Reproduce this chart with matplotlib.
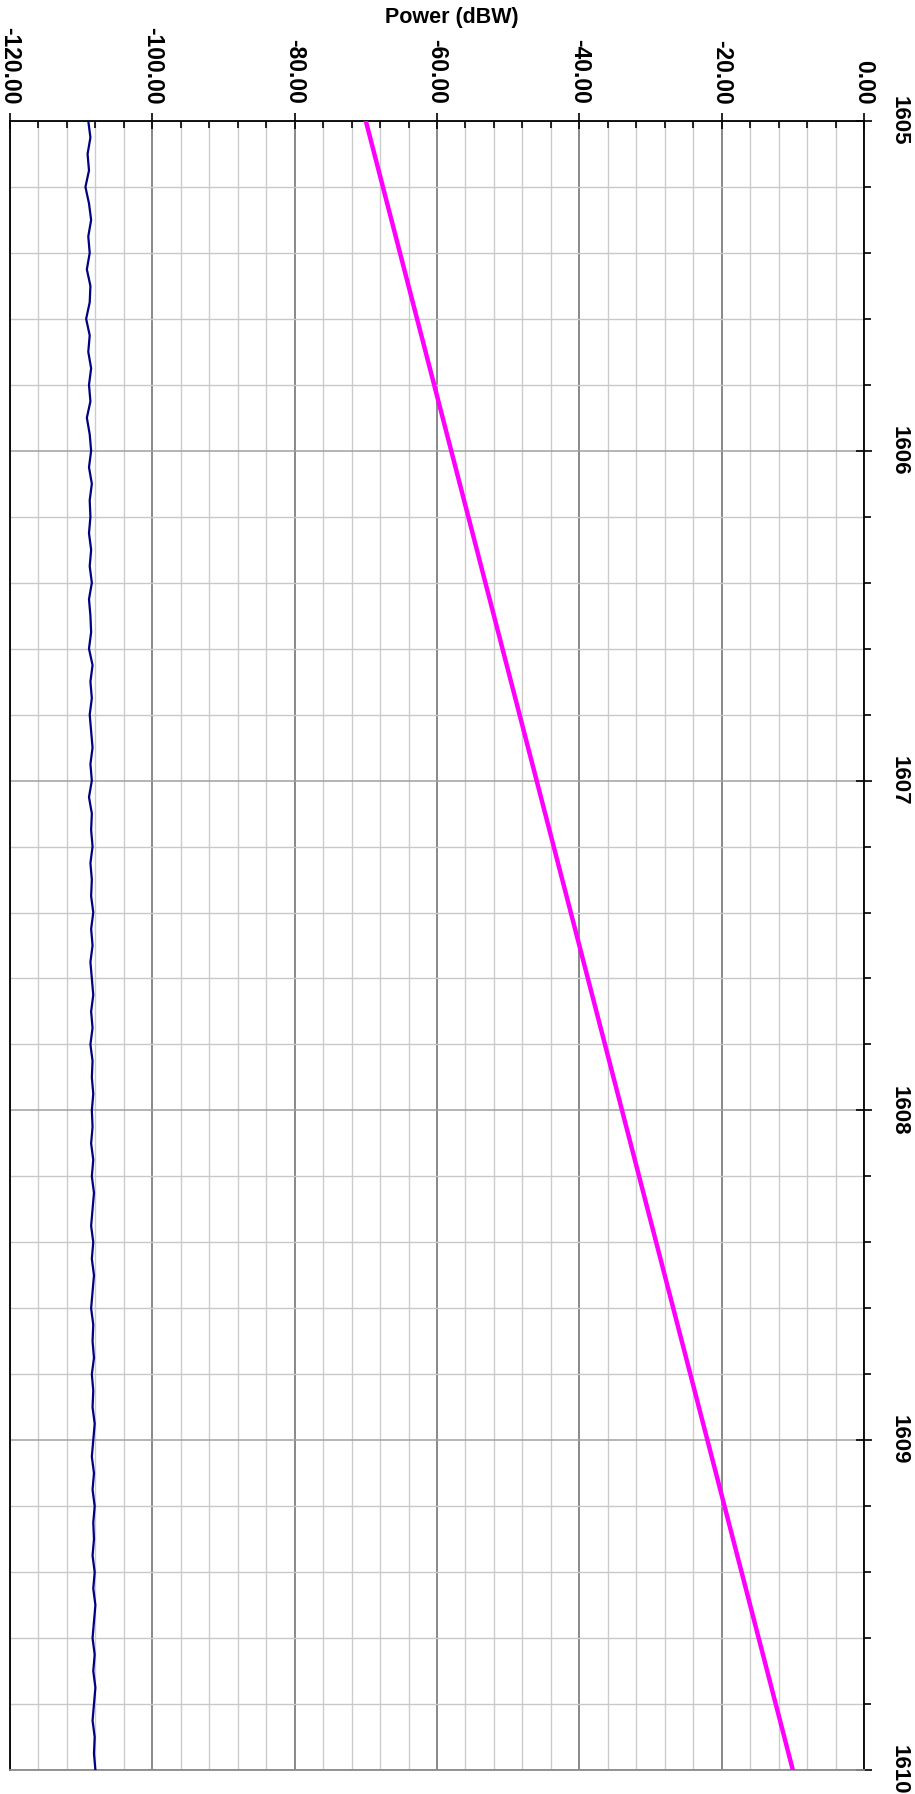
import numpy as np
import matplotlib
matplotlib.use("Agg")
import matplotlib.pyplot as plt
from matplotlib.ticker import MultipleLocator, FormatStrFormatter

plt.rcParams['font.family'] = ['Liberation Sans', 'DejaVu Sans']

# frequency (MHz) of the signal trace, every 0.25 MHz
sig_freq = [1605.00, 1605.25, 1605.50, 1605.75, 1606.00, 1606.25, 1606.50,
            1606.75, 1607.00, 1607.25, 1607.50, 1607.75, 1608.00, 1608.25,
            1608.50, 1608.75, 1609.00, 1609.25, 1609.50, 1609.75, 1610.00]
sig_power = [-70.0, -67.0, -64.0, -61.0, -58.0, -55.0, -52.0,
             -49.0, -46.0, -43.0, -40.0, -37.0, -34.0, -31.0,
             -28.0, -25.0, -22.0, -19.0, -16.0, -13.0, -10.0]

# noise floor trace, every 0.05 MHz from 1605 to 1610
noise_freq = [1605 + 0.05 * i for i in range(101)]
noise_power = [
    -109.0, -108.7, -109.1, -108.9, -109.4, -108.9, -108.6, -109.0, -108.8, -109.2,
    -108.7, -108.8, -109.3, -108.8, -109.0, -108.6, -108.9, -108.7, -109.2, -108.8,
    -108.6, -108.9, -108.5, -108.8, -108.7, -108.9, -108.6, -108.8, -108.5, -108.9,
    -108.7, -108.6, -108.9, -108.4, -108.7, -108.5, -108.8, -108.6, -108.4, -108.7,
    -108.5, -108.9, -108.5, -108.6, -108.4, -108.7, -108.5, -108.6, -108.3, -108.6,
    -108.4, -108.7, -108.5, -108.3, -108.6, -108.4, -108.7, -108.4, -108.5, -108.3,
    -108.5, -108.4, -108.6, -108.3, -108.5, -108.2, -108.4, -108.6, -108.3, -108.5,
    -108.2, -108.4, -108.6, -108.3, -108.4, -108.2, -108.5, -108.3, -108.4, -108.1,
    -108.3, -108.5, -108.2, -108.4, -108.1, -108.3, -108.2, -108.4, -108.1, -108.3,
    -108.0, -108.2, -108.4, -108.1, -108.3, -108.0, -108.2, -108.4, -108.1, -108.2,
    -108.0,
]

W, H = 915, 1794
fig = plt.figure(figsize=(W / 100, H / 100), dpi=100)
ax = fig.add_axes([10 / W, 24 / H, (864 - 10) / W, (1770 - 121) / H])

ax.set_xlim(-120, 0)
ax.set_ylim(1610, 1605)

# grid
ax.xaxis.set_major_locator(MultipleLocator(20))
ax.xaxis.set_minor_locator(MultipleLocator(4))
ax.yaxis.set_major_locator(MultipleLocator(1))
ax.yaxis.set_minor_locator(MultipleLocator(0.2))
ax.grid(which='minor', axis='x', color='#cccccc', lw=1.0)
ax.grid(which='major', axis='x', color='#7f7f7f', lw=1.3)
ax.grid(which='minor', axis='y', color='#c8c8c8', lw=1.0)
ax.grid(which='major', axis='y', color='#a0a0a0', lw=1.1)
ax.set_axisbelow(True)

ax.plot(noise_power, noise_freq, color='#000080', lw=1.6, zorder=3)
ax.plot(sig_power, sig_freq, color='#ff00ff', lw=3.2, zorder=4)

# ticks: power along the top, frequency on the right
ax.xaxis.tick_top()
ax.yaxis.tick_right()
ax.xaxis.set_major_formatter(FormatStrFormatter('%.2f'))
ax.tick_params(axis='x', which='major', direction='inout', length=12, width=1.2,
               pad=6, labelsize=16.5, labelrotation=270)
ax.tick_params(axis='x', which='minor', direction='in', length=5, width=1.2)
ax.tick_params(axis='y', which='major', direction='inout', length=12, width=1.2,
               pad=12, labelsize=16, labelrotation=270)
ax.tick_params(axis='y', which='minor', direction='out', length=5, width=1.2)
for lab in ax.get_xticklabels():
    lab.set_fontweight('bold')
for lab in ax.get_yticklabels():
    lab.set_fontweight('bold')
    lab.set_va('center')

for s in ['top', 'right', 'left']:
    ax.spines[s].set_color('black')
    ax.spines[s].set_linewidth(1.3)
ax.spines['bottom'].set_color('#8c8c8c')
ax.spines['bottom'].set_linewidth(1.3)

fig.text(452 / W, 1 - 18 / H, 'Power (dBW)', ha='center', va='center',
         fontsize=15.5, fontweight='bold')

fig.savefig('out.png', dpi=100)
